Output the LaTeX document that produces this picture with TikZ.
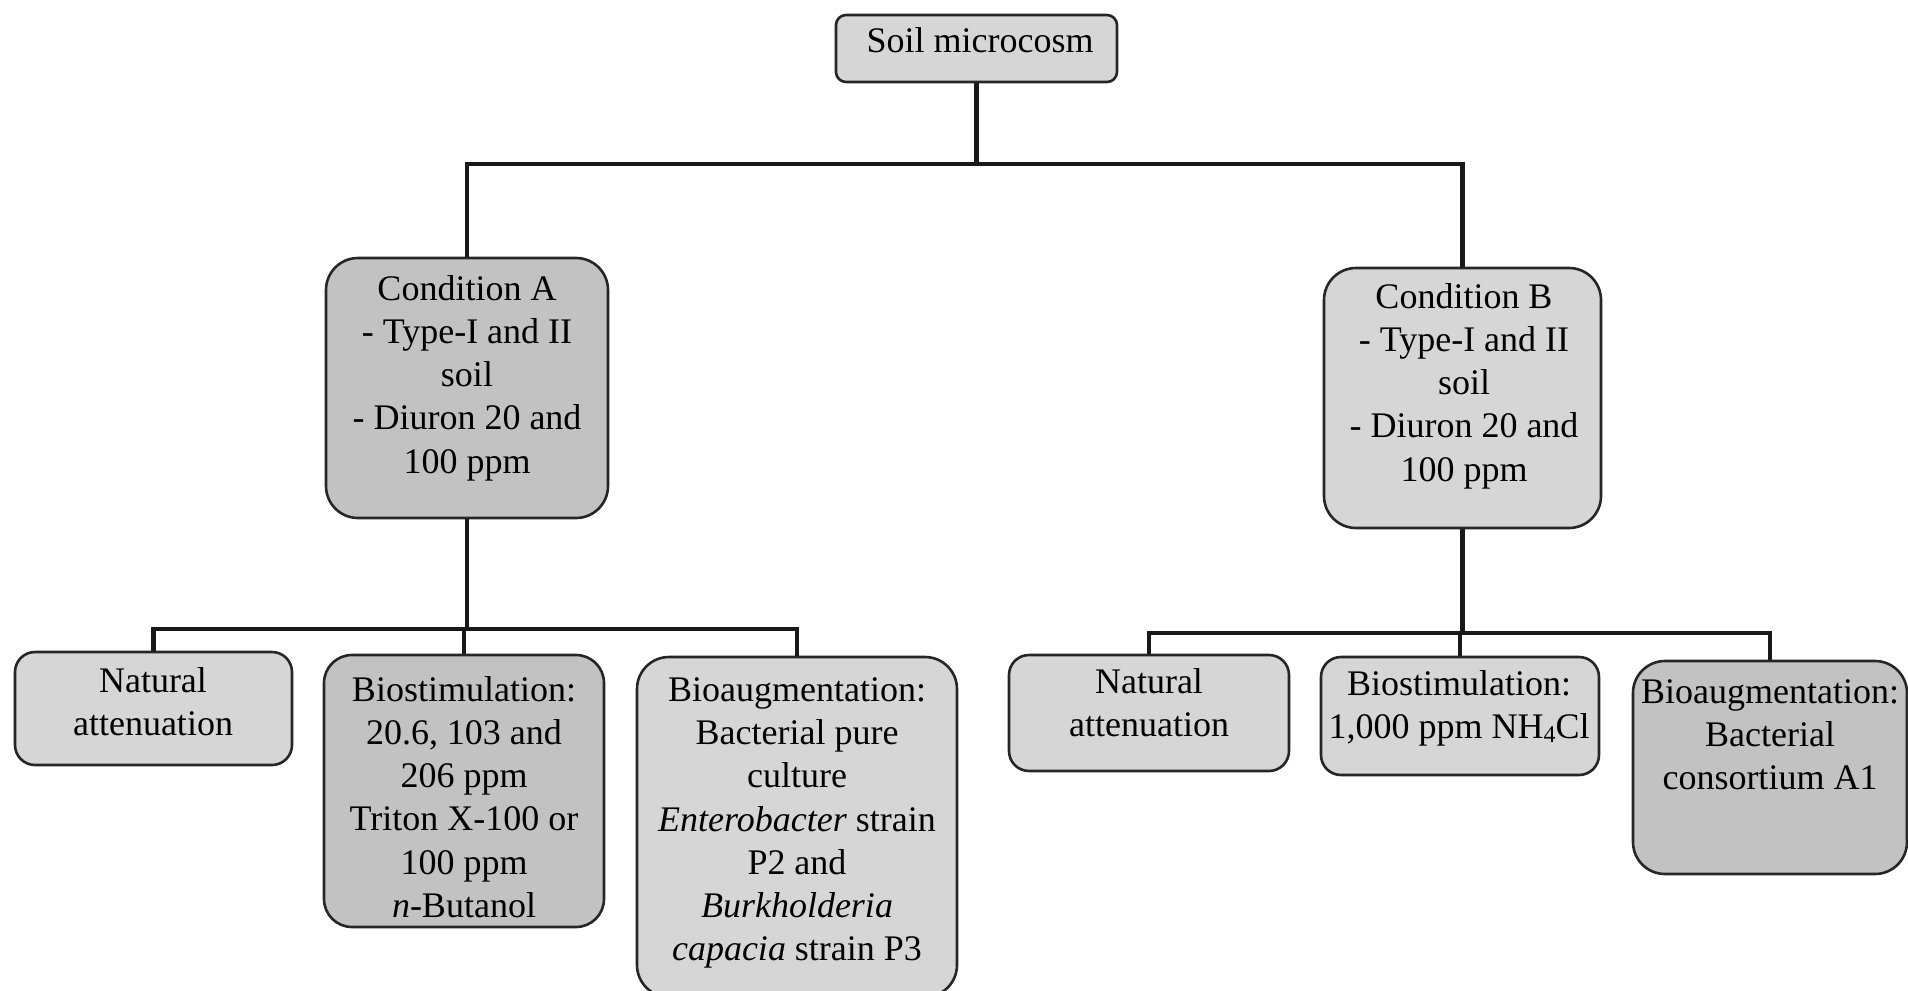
\documentclass[tikz,border=0pt]{standalone}
\usepackage{fontspec}
\setmainfont{Liberation Serif}
\begin{document}
\begin{tikzpicture}[x=0.5pt,y=-0.5pt,
  box/.style={draw=black!85,line width=1.3pt,fill=black!16,rounded corners=#1,inner sep=0pt},
  box/.default=10pt,
  dbox/.style={box=#1,fill=black!24},
  dbox/.default=10pt,
  txt/.style={align=center,font=\fontsize{18}{21.6}\selectfont,inner sep=0pt},
  conn/.style={line width=2.2pt,black!90}]
\useasboundingbox (0,0) rectangle (1908,991);
% boxes
\node[box=5pt,minimum width=140.5pt,minimum height=33.5pt] (top) at (976.5,48.5) {};
\node[dbox=16pt,minimum width=141pt,minimum height=130pt] (ca) at (467,388) {};
\node[box=16pt,minimum width=138.5pt,minimum height=130pt] (cb) at (1462.5,398) {};
\node[box=10pt,minimum width=138.5pt,minimum height=56.5pt] (na1) at (153.5,708.5) {};
\node[dbox=14pt,minimum width=140pt,minimum height=136pt] (bs1) at (464,791) {};
\node[box=16pt,minimum width=160pt,minimum height=170pt] (ba1) at (797,827) {};
\node[box=10pt,minimum width=140pt,minimum height=58pt] (na2) at (1149,713) {};
\node[box=10pt,minimum width=139pt,minimum height=59pt] (bs2) at (1460,716) {};
\node[dbox=16pt,minimum width=137pt,minimum height=106.5pt] (ba2) at (1770,767.5) {};
% texts
\node[txt] (ttop) at (980,40) {Soil microcosm};
\node[txt] (tca) at (467,378) {Condition A\\- Type-I and II\\soil\\- Diuron 20 and\\100 ppm};
\node[txt] (tcb) at (1464,386) {Condition B\\- Type-I and II\\soil\\- Diuron 20 and\\100 ppm};
\node[txt] (tna1) at (153,702) {Natural\\attenuation};
\node[txt] (tbs1) at (464,797) {Biostimulation:\\20.6, 103 and\\206 ppm\\Triton X-100 or\\100 ppm\\\textit{n}-Butanol};
\node[txt] (tba1) at (797,823) {Bioaugmentation:\\Bacterial pure\\culture\\\textit{Enterobacter} strain\\P2 and\\\textit{Burkholderia}\\\textit{capacia} strain P3};
\node[txt] (tna2) at (1149,703) {Natural\\attenuation};
\node[txt] (tbs2) at (1459,708) {Biostimulation:\\1,000 ppm NH\raisebox{-0.25ex}{\fontsize{12}{12}\selectfont 4}Cl};
\node[txt] (tba2) at (1770,735) {Bioaugmentation:\\Bacterial\\consortium A1};
% junctions
\coordinate (j0) at (980,164);
\coordinate (ja) at (467,629);
\coordinate (jb) at (1464,633);
% connectors
\draw[conn] (top.south) -- (top.south |- j0);
\draw[conn] (top.south |- j0) -| (ca.north);
\draw[conn] (top.south |- j0) -| (cb.north);
\draw[conn] (ca.south) -- (ca.south |- ja);
\draw[conn] (ca.south |- ja) -| (na1.north);
\draw[conn] (ca.south |- ja) -| (bs1.north);
\draw[conn] (ca.south |- ja) -| (ba1.north);
\draw[conn] (cb.south) -- (cb.south |- jb);
\draw[conn] (cb.south |- jb) -| (na2.north);
\draw[conn] (cb.south |- jb) -| (bs2.north);
\draw[conn] (cb.south |- jb) -| (ba2.north);
\end{tikzpicture}
\end{document}
